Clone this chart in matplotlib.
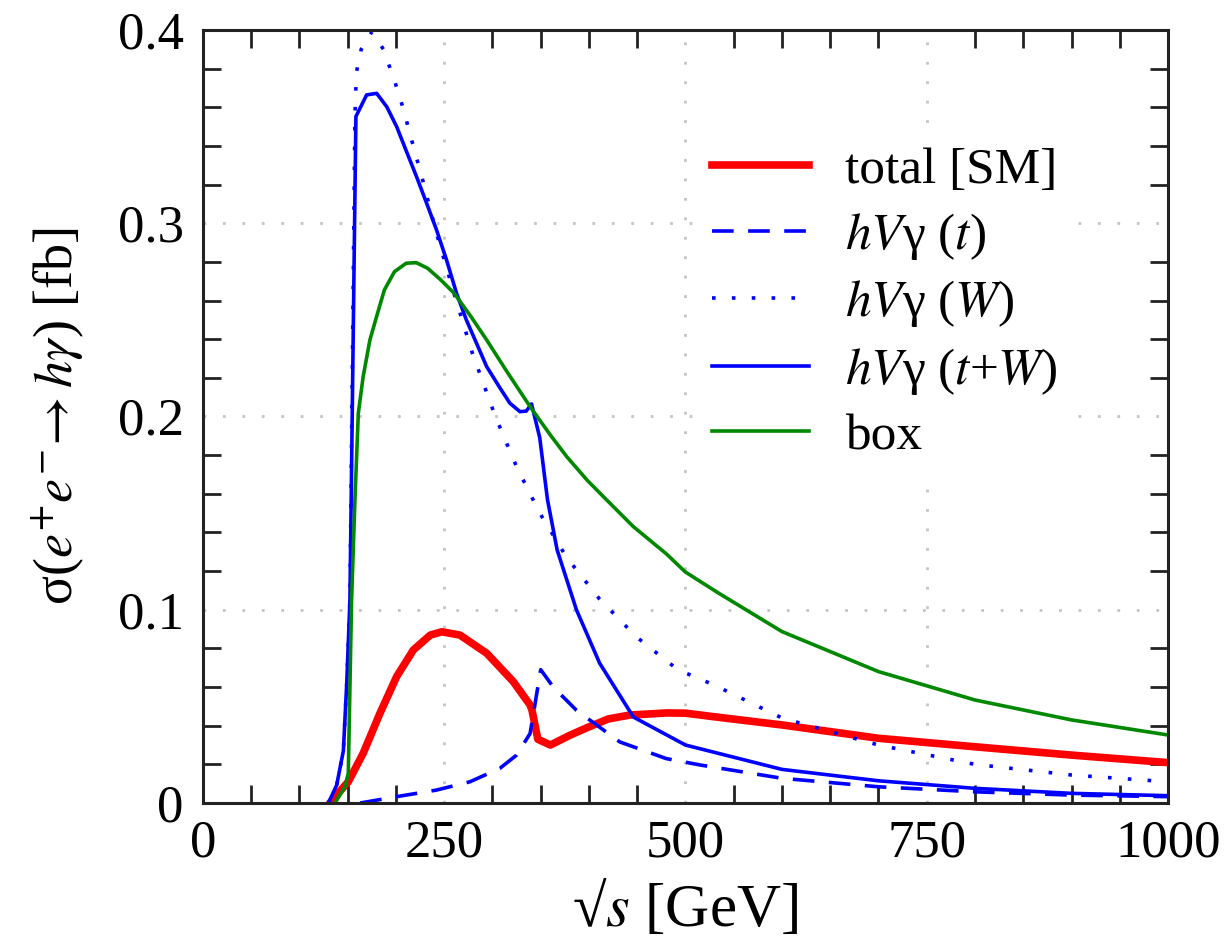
import numpy as np
import matplotlib
matplotlib.use("Agg")
import matplotlib.pyplot as plt
from matplotlib.ticker import MultipleLocator, FixedLocator

plt.rcParams['font.family'] = ['Liberation Serif', 'DejaVu Serif']
plt.rcParams['mathtext.fontset'] = 'stix'

# total [SM]
x_total = [131.6, 140, 150.6, 166, 183.4, 200.7, 218, 235.6, 247.6, 266.3, 294,
           321.6, 339, 341, 347, 360, 380, 398, 420, 442, 480, 500, 532, 600,
           700, 800, 900, 1000]
y_total = [0.0, 0.005, 0.011, 0.0257, 0.0464, 0.0654, 0.0792, 0.0869, 0.0886,
           0.0869, 0.0775, 0.0628, 0.0507, 0.048, 0.033, 0.030, 0.035, 0.039,
           0.0435, 0.0455, 0.0466, 0.0465, 0.0445, 0.0404, 0.0335, 0.0291,
           0.0248, 0.0209]

# hVgamma (t)
x_t = [163, 200.7, 242, 276.7, 307.8, 325, 339, 346, 350, 363, 387, 432, 480,
       515, 600, 700, 800, 900, 1000]
y_t = [0.0, 0.0033, 0.0067, 0.011, 0.018, 0.0248, 0.036, 0.057, 0.069, 0.060,
       0.048, 0.0316, 0.023, 0.0197, 0.0128, 0.0084, 0.0058, 0.0041, 0.0033]

# hVgamma (W)
x_w = [130, 138.6, 145.5, 149, 152.3, 157.5, 159, 164, 175, 187, 199, 204,
       209.3, 213.8, 218.7, 223.5, 228.3, 232.8, 237.3, 242, 247.3, 252.4,
       256.9, 279, 303, 325, 341, 349, 377, 411, 449, 492, 530, 600, 700, 800,
       900, 1000]
y_w = [0.0, 0.0093, 0.027, 0.062, 0.105, 0.355, 0.378, 0.390, 0.399, 0.390,
       0.373, 0.365, 0.3565, 0.347, 0.3388, 0.3298, 0.3212, 0.3125, 0.3037,
       0.2948, 0.2856, 0.2772, 0.269, 0.233, 0.200, 0.174, 0.158, 0.150, 0.127,
       0.1055, 0.086, 0.069, 0.061, 0.044, 0.030, 0.020, 0.0145, 0.011]

# hVgamma (t+W)
x_tw = [130, 138.6, 145.5, 149, 152.3, 158.5, 169.6, 180, 190.4, 200.7, 211,
        221.4, 231.8, 242, 252.4, 262.8, 273, 294, 308, 318, 328.5, 335, 340.5,
        349, 357, 367, 387, 411, 446, 500, 600, 700, 800, 900, 1000]
y_tw = [0.0, 0.0093, 0.027, 0.062, 0.105, 0.3552, 0.3664, 0.3672, 0.3603,
        0.350, 0.337, 0.324, 0.3103, 0.2966, 0.281, 0.2637, 0.2499, 0.2258,
        0.2146, 0.2069, 0.2025, 0.2028, 0.2065, 0.189, 0.157, 0.131, 0.100,
        0.0724, 0.0445, 0.030, 0.0174, 0.0115, 0.0076, 0.005, 0.0038]

# box
x_box = [136.8, 147.2, 150.6, 154, 157.5, 161, 166, 173, 179.4, 188, 198.4,
         210.6, 221, 232.8, 246.6, 260.4, 277.7, 294, 315, 339, 360, 377, 398,
         415, 446, 480, 500, 534, 600, 700, 800, 900, 1000]
y_box = [0.0, 0.0084, 0.0154, 0.105, 0.157, 0.2017, 0.2206, 0.2396, 0.2508,
         0.2655, 0.2749, 0.2793, 0.2796, 0.2767, 0.2706, 0.2637, 0.2517,
         0.2396, 0.2232, 0.2051, 0.1904, 0.1792, 0.1671, 0.1585, 0.143, 0.129,
         0.1195, 0.1087, 0.0887, 0.068, 0.0533, 0.043, 0.0352]

x_major = [0, 250, 500, 750, 1000]
x_labels = ['0', '250', '500', '750', '1000']
y_major = [0, 0.1, 0.2, 0.3, 0.4]
y_labels = ['0', '0.1', '0.2', '0.3', '0.4']

fig = plt.figure(figsize=(12.3, 9.51), dpi=100)
ax = fig.add_axes([0.165, 0.1556, 0.7846, 0.8129])

blue = '#0000ff'
ax.plot(x_total, y_total, color='#ff0000', lw=5.5, label='total [SM]')
ax.plot(x_t, y_t, color=blue, lw=2.6, linestyle=(0, (6, 4)), label='$hV$γ ($t$)')
ax.plot(x_w, y_w, color=blue, lw=2.6, linestyle=(0, (1, 4.5)), label='$hV$γ ($W$)')
ax.plot(x_tw, y_tw, color=blue, lw=2.6, label='$hV$γ ($t$+$W$)')
ax.plot(x_box, y_box, color='#008800', lw=2.6, label='box')

ax.set_xlim(0, 1000)
ax.set_ylim(0, 0.4)
ax.xaxis.set_major_locator(FixedLocator(x_major))
ax.set_xticklabels(x_labels)
ax.yaxis.set_major_locator(FixedLocator(y_major))
ax.set_yticklabels(y_labels)
ax.xaxis.set_minor_locator(MultipleLocator(50))
ax.yaxis.set_minor_locator(MultipleLocator(0.02))

ax.tick_params(which='both', direction='in', top=True, right=True,
               labelsize=38, width=2.0, color='#222222')
ax.tick_params(which='major', length=0, pad=12)
ax.tick_params(which='minor', length=13)
ax.tick_params(axis='y', which='major', pad=14)

for sp in ax.spines.values():
    sp.set_linewidth(2.2)
    sp.set_color('#222222')

ax.grid(True, which='major', color='#c4c4c4', linestyle=(0, (1, 6)), linewidth=2)
ax.set_axisbelow(True)

ax.set_xlabel('√$s$ [GeV]', fontsize=44, labelpad=8)
ax.set_ylabel(r'σ($e^{+}e^{-}\!\rightarrow h\gamma$) [fb]', fontsize=39, labelpad=22)

leg = ax.legend(loc='upper left', bbox_to_anchor=(0.511, 0.868), fontsize=37,
                handlelength=1.9, handletextpad=0.7, labelspacing=0.32,
                borderpad=0.3, borderaxespad=0, frameon=True, fancybox=False)
leg.get_frame().set_facecolor('white')
leg.get_frame().set_edgecolor('none')
leg.get_frame().set_alpha(1)

fig.savefig('out.png', dpi=100)
